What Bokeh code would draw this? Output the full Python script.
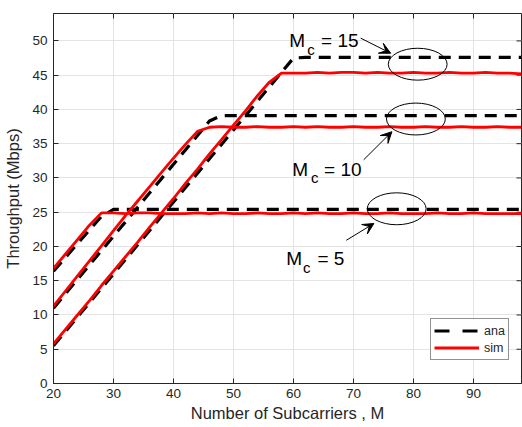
from bokeh.plotting import figure
from bokeh.models import Range1d, Legend, LegendItem, Arrow, VeeHead, FixedTicker
from bokeh.embed import file_html
from bokeh.resources import INLINE
from bokeh.core.properties import value
import math

# ---- data ----
M = [20, 22, 24, 26, 28, 30, 32, 34, 36, 38,
     40, 42, 44, 46, 48, 50, 52, 54, 56, 58,
     60, 62, 64, 66, 68, 70, 72, 74, 76, 78,
     80, 82, 84, 86, 88, 90, 92, 94, 96, 98]

ana_5 = [16.4, 18.4, 20.4, 22.4, 24.4, 25.4, 25.4, 25.4, 25.4, 25.4,
         25.4, 25.4, 25.4, 25.4, 25.4, 25.4, 25.4, 25.4, 25.4, 25.4,
         25.4, 25.4, 25.4, 25.4, 25.4, 25.4, 25.4, 25.4, 25.4, 25.4,
         25.4, 25.4, 25.4, 25.4, 25.4, 25.4, 25.4, 25.4, 25.4, 25.4]
sim_5 = [16.8, 18.9, 21.0, 23.1, 24.9, 24.9, 24.8, 24.9, 24.9, 24.8,
         24.8, 24.8, 24.9, 24.8, 24.9, 24.8, 24.8, 24.9, 24.8, 24.8,
         24.9, 24.8, 24.9, 24.8, 24.8, 24.9, 24.8, 24.8, 24.9, 24.8,
         24.8, 24.8, 24.9, 24.8, 24.8, 24.9, 24.8, 24.8, 24.8, 24.8]

ana_10 = [11.0, 13.1, 15.2, 17.3, 19.4, 21.5, 23.6, 25.7, 27.8, 29.9,
          32.0, 34.1, 36.2, 38.3, 39.1, 39.1, 39.1, 39.1, 39.1, 39.1,
          39.1, 39.1, 39.1, 39.1, 39.1, 39.1, 39.1, 39.1, 39.1, 39.1,
          39.1, 39.1, 39.1, 39.1, 39.1, 39.1, 39.1, 39.1, 39.1, 39.1]
sim_10 = [11.3, 13.5, 15.7, 17.9, 20.1, 22.3, 24.5, 26.6, 28.7, 30.8,
          32.9, 34.9, 36.8, 37.4, 37.5, 37.4, 37.4, 37.5, 37.4, 37.4,
          37.5, 37.4, 37.5, 37.4, 37.4, 37.5, 37.4, 37.4, 37.5, 37.4,
          37.4, 37.5, 37.4, 37.4, 37.5, 37.4, 37.4, 37.5, 37.4, 37.4]

ana_15 = [5.5, 7.6, 9.7, 11.8, 13.9, 16.0, 18.1, 20.2, 22.3, 24.4,
          26.5, 28.6, 30.7, 32.8, 34.9, 37.0, 39.1, 41.2, 43.3, 45.4,
          47.5, 47.6, 47.6, 47.6, 47.6, 47.6, 47.6, 47.6, 47.6, 47.6,
          47.6, 47.6, 47.6, 47.6, 47.6, 47.6, 47.6, 47.6, 47.6, 47.6]
sim_15 = [5.8, 7.9, 10.0, 12.1, 14.3, 16.4, 18.5, 20.6, 22.8, 24.9,
          27.0, 29.2, 31.3, 33.5, 35.6, 37.7, 39.8, 42.0, 44.0, 45.3,
          45.3, 45.3, 45.4, 45.3, 45.4, 45.4, 45.3, 45.4, 45.3, 45.3,
          45.4, 45.3, 45.3, 45.4, 45.3, 45.3, 45.4, 45.3, 45.3, 45.2]

x_ticks = [20, 30, 40, 50, 60, 70, 80, 90]
y_ticks = [0, 5, 10, 15, 20, 25, 30, 35, 40, 45, 50]
X_MIN, X_MAX, Y_MIN, Y_MAX = 20, 98, 0, 54

# annotation labels
label_vals = ["= 15", "= 10", "= 5"]
label_mx = [59.3, 59.8, 58.8]
label_cx = [62.3, 62.9, 61.6]
label_ex = [64.6, 65.1, 64.0]
label_my = [50.0, 31.3, 18.2]
label_cy = [48.7, 30.1, 17.0]

arrow_x0 = [71.2, 71.7, 68.8]
arrow_y0 = [50.4, 32.65, 20.9]
arrow_x1 = [76.2, 76.4, 73.4]
arrow_y1 = [48.2, 36.75, 23.35]

ell_x = [80.7, 80.4, 77.2]
ell_y = [46.6, 38.6, 25.5]
ell_w = [9.8, 9.8, 9.8]
ell_h = [4.66, 4.66, 4.66]

FONT = "Liberation Sans"
TXT = "#262626"

p = figure(width=522, height=427, output_backend="svg", toolbar_location=None,
           x_range=Range1d(X_MIN, X_MAX), y_range=Range1d(Y_MIN, Y_MAX),
           min_border_left=53, min_border_right=1, min_border_top=13, min_border_bottom=44)
p.background_fill_color = "white"
p.border_fill_color = "white"
p.outline_line_color = TXT
p.outline_line_width = 1

for ax in (p.xaxis[0], p.yaxis[0]):
    ax.major_tick_in = 5
    ax.major_tick_out = 0
    ax.minor_tick_in = 0
    ax.minor_tick_out = 0
    ax.axis_line_color = TXT
    ax.major_tick_line_color = TXT
    ax.major_label_text_color = TXT
    ax.major_label_text_font = FONT
    ax.major_label_text_font_size = "13.5px"
    ax.axis_label_text_font = FONT
    ax.axis_label_text_font_size = "16.5px"
    ax.axis_label_text_font_style = "normal"
    ax.axis_label_text_color = TXT
p.xaxis[0].ticker = FixedTicker(ticks=x_ticks)
p.yaxis[0].ticker = FixedTicker(ticks=y_ticks)
p.xaxis[0].axis_label = "Number of Subcarriers , M"
p.yaxis[0].axis_label = "Throughput (Mbps)"
p.xaxis[0].major_label_standoff = 5
p.xaxis[0].axis_label_standoff = 3
p.yaxis[0].major_label_standoff = 6
p.yaxis[0].axis_label_standoff = 7

p.xgrid.ticker = FixedTicker(ticks=x_ticks)
p.ygrid.ticker = FixedTicker(ticks=y_ticks)
p.grid.grid_line_color = "#e3e3e3"
p.grid.grid_line_width = 1

# inward ticks on the top and right box edges
p.ray(x=x_ticks, y=[Y_MAX] * len(x_ticks), length=5, length_units="screen",
      angle=-math.pi / 2, line_color=TXT, line_width=1)
p.ray(x=[X_MAX] * len(y_ticks), y=y_ticks, length=5, length_units="screen",
      angle=math.pi, line_color=TXT, line_width=1)

DASH = "12 8"
for ana in (ana_5, ana_10, ana_15):
    p.line(M, ana, line_color="black", line_width=3.2, line_dash=DASH)
ls = []
for sim in (sim_5, sim_10, sim_15):
    ls.append(p.line(M, sim, line_color="red", line_width=2.8))

# legend sample for the dashed series (no visible data; longer dash as in the legend)
NAN = float("nan")
ana_key = p.line([NAN], [NAN], line_color="black", line_width=3.2, line_dash="15 13")

p.ellipse(x=ell_x, y=ell_y, width=ell_w, height=ell_h, fill_color=None,
          line_color="black", line_width=1)

for i in range(3):
    p.add_layout(Arrow(end=VeeHead(size=11, fill_color="black", line_color="black", line_width=1),
                       x_start=arrow_x0[i], y_start=arrow_y0[i],
                       x_end=arrow_x1[i], y_end=arrow_y1[i],
                       line_color="black", line_width=1))

p.text(x=label_mx, y=label_my, text=["M", "M", "M"], text_font=value(FONT),
       text_font_size="19px", text_color="black", text_baseline="alphabetic")
p.text(x=label_cx, y=label_cy, text=["c", "c", "c"], text_font=value(FONT),
       text_font_size="15px", text_color="black", text_baseline="alphabetic")
p.text(x=label_ex, y=label_my, text=label_vals, text_font=value(FONT),
       text_font_size="19px", text_color="black", text_baseline="alphabetic")

legend = Legend(items=[LegendItem(label="ana", renderers=[ana_key]),
                       LegendItem(label="sim", renderers=[ls[0]])],
                location=(377, 23))
legend.border_line_color = TXT
legend.border_line_width = 1
legend.label_text_font = FONT
legend.label_text_font_size = "12.5px"
legend.label_text_color = TXT
legend.glyph_width = 45
legend.glyph_height = 17
legend.label_standoff = 5
legend.padding = 3
legend.spacing = 0
legend.margin = 0
legend.background_fill_alpha = 1
p.add_layout(legend)

open("out.html", "w").write(file_html(p, INLINE))
